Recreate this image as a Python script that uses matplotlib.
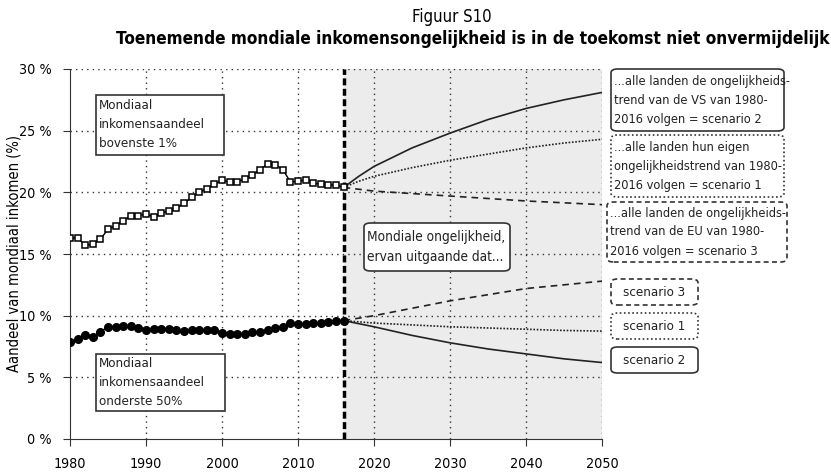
import matplotlib.pyplot as plt
from matplotlib.patches import FancyBboxPatch
import numpy as np

plt.rcParams['font.family'] = ['DejaVu Sans']
plt.rcParams['font.stretch'] = 'condensed'

years = np.arange(1980, 2017)
top1 = [16.3, 16.3, 15.7, 15.8, 16.2, 17.0, 17.3, 17.7, 18.1, 18.1,
        18.25, 18.0, 18.3, 18.5, 18.7, 19.1, 19.6, 20.0, 20.3, 20.65,
        21.0, 20.8, 20.85, 21.1, 21.4, 21.85, 22.3, 22.25, 21.85, 20.85,
        20.9, 21.0, 20.75, 20.65, 20.6, 20.6, 20.4]
bottom50 = [7.9, 8.1, 8.4, 8.25, 8.7, 9.1, 9.1, 9.2, 9.2, 9.0,
            8.8, 8.95, 8.9, 8.9, 8.8, 8.75, 8.8, 8.8, 8.8, 8.8,
            8.6, 8.55, 8.55, 8.55, 8.65, 8.7, 8.8, 9.0, 9.05, 9.4,
            9.35, 9.35, 9.4, 9.4, 9.5, 9.55, 9.6]

proj_years = [2016, 2018, 2020, 2025, 2030, 2035, 2040, 2045, 2050]
top_s2 = [20.4, 21.3, 22.1, 23.6, 24.8, 25.9, 26.8, 27.5, 28.1]
top_s1 = [20.4, 20.9, 21.3, 22.0, 22.6, 23.1, 23.6, 24.0, 24.3]
top_s3 = [20.4, 20.25, 20.1, 19.9, 19.7, 19.5, 19.3, 19.15, 19.0]
bot_s3 = [9.6, 9.8, 10.0, 10.6, 11.2, 11.7, 12.2, 12.5, 12.8]
bot_s1 = [9.6, 9.5, 9.4, 9.25, 9.1, 9.0, 8.9, 8.8, 8.75]
bot_s2 = [9.6, 9.35, 9.1, 8.4, 7.8, 7.3, 6.9, 6.5, 6.2]

xticks = [1980, 1990, 2000, 2010, 2020, 2030, 2040, 2050]
yticks = [0, 5, 10, 15, 20, 25, 30]

fig = plt.figure(figsize=(8.31, 4.75), dpi=100)
ax = fig.add_axes([70/831, 36/475, 532/831, 370/475])

ax.axvspan(2016, 2050, color='#ececec', zorder=0)
for x in xticks[1:]:
    ax.axvline(x, color='#333333', lw=1, ls=(0, (1, 3)), zorder=1)
for y in yticks[1:]:
    ax.axhline(y, color='#333333', lw=1, ls=(0, (1, 3)), zorder=1)
ax.axvline(2016, color='black', lw=2.5, ls=(0, (2, 1)), zorder=3)

ax.plot(years, top1, color='black', lw=1, marker='s', ms=5, mfc='white',
        mec='black', mew=1.1, zorder=5)
ax.plot(years, bottom50, color='black', lw=1, marker='o', ms=5.5, mfc='black',
        mec='black', zorder=5)

ax.plot(proj_years, top_s2, color='#222222', lw=1.2, zorder=4)
ax.plot(proj_years, top_s1, color='#222222', lw=1.2, ls=(0, (1, 1)), zorder=4)
ax.plot(proj_years, top_s3, color='#222222', lw=1.2, ls=(0, (4, 3)), zorder=4)
ax.plot(proj_years, bot_s2, color='#222222', lw=1.2, zorder=4)
ax.plot(proj_years, bot_s1, color='#222222', lw=1.2, ls=(0, (1, 1)), zorder=4)
ax.plot(proj_years, bot_s3, color='#222222', lw=1.2, ls=(0, (4, 3)), zorder=4)

ax.set_xlim(1980, 2050)
ax.set_ylim(0, 30)
ax.set_xticks(xticks)
ax.set_yticks(yticks)
ax.set_yticklabels([f'{v} %' for v in yticks])
ax.tick_params(labelsize=10.3, direction='out', length=5, color='#333333', pad=8)
for s in ['top', 'right']:
    ax.spines[s].set_visible(False)
ax.spines['left'].set_color('#333333')
ax.spines['bottom'].set_color('#333333')
ax.set_ylabel('Aandeel van mondiaal inkomen (%)', fontsize=10.5)
ax.yaxis.set_label_coords(-0.092, 0.5)

fig.text(0.544, 0.965, 'Figuur S10', ha='center', va='center', fontsize=12)
fig.text(0.5686, 0.918, 'Toenemende mondiale inkomensongelijkheid is in de toekomst niet onvermijdelijk',
         ha='center', va='center', fontsize=12.3, fontweight='bold')


def box(x0, y0, x1, y1, text, ls='-', rounded=False, ha='left', fs=9.5):
    # pixel coords from top-left
    fx0, fx1 = x0 / 831, x1 / 831
    fy0, fy1 = 1 - y1 / 475, 1 - y0 / 475
    style = 'round,pad=0,rounding_size=0.008' if rounded else 'square,pad=0'
    p = FancyBboxPatch((fx0, fy0), fx1 - fx0, fy1 - fy0, boxstyle=style,
                       transform=fig.transFigure, fc='white', ec='#333333',
                       lw=1.2, ls=ls, zorder=10)
    fig.add_artist(p)
    tx = fx0 + 3 / 831 if ha == 'left' else (fx0 + fx1) / 2
    fig.text(tx, (fy0 + fy1) / 2, text, ha=ha, va='center', fontsize=fs,
             linespacing=1.6, color='#222222', zorder=11)


box(96, 95, 224, 155, 'Mondiaal\ninkomensaandeel\nbovenste 1%', ha='left')
box(96, 354, 225, 411, 'Mondiaal\ninkomensaandeel\nonderste 50%', ha='left')
box(364, 223, 510, 271, 'Mondiale ongelijkheid,\nervan uitgaande dat...', rounded=True, fs=9.8)
box(611, 69, 784, 131, '...alle landen de ongelijkheids-\ntrend van de VS van 1980-\n2016 volgen = scenario 2', rounded=True, fs=9.2)
box(611, 135, 784, 197, '...alle landen hun eigen\nongelijkheidstrend van 1980-\n2016 volgen = scenario 1', ls=(0, (1, 1.5)), rounded=True, fs=9.2)
box(607, 202, 787, 262, '...alle landen de ongelijkheids-\ntrend van de EU van 1980-\n2016 volgen = scenario 3', ls=(0, (3, 2)), rounded=True, fs=9.2)
box(611, 279, 698, 305, 'scenario 3', ls=(0, (3, 2)), rounded=True, ha='center')
box(611, 313, 698, 339, 'scenario 1', ls=(0, (1, 1.5)), rounded=True, ha='center')
box(611, 347, 698, 373, 'scenario 2', rounded=True, ha='center')

fig.savefig('out.png', dpi=100)
